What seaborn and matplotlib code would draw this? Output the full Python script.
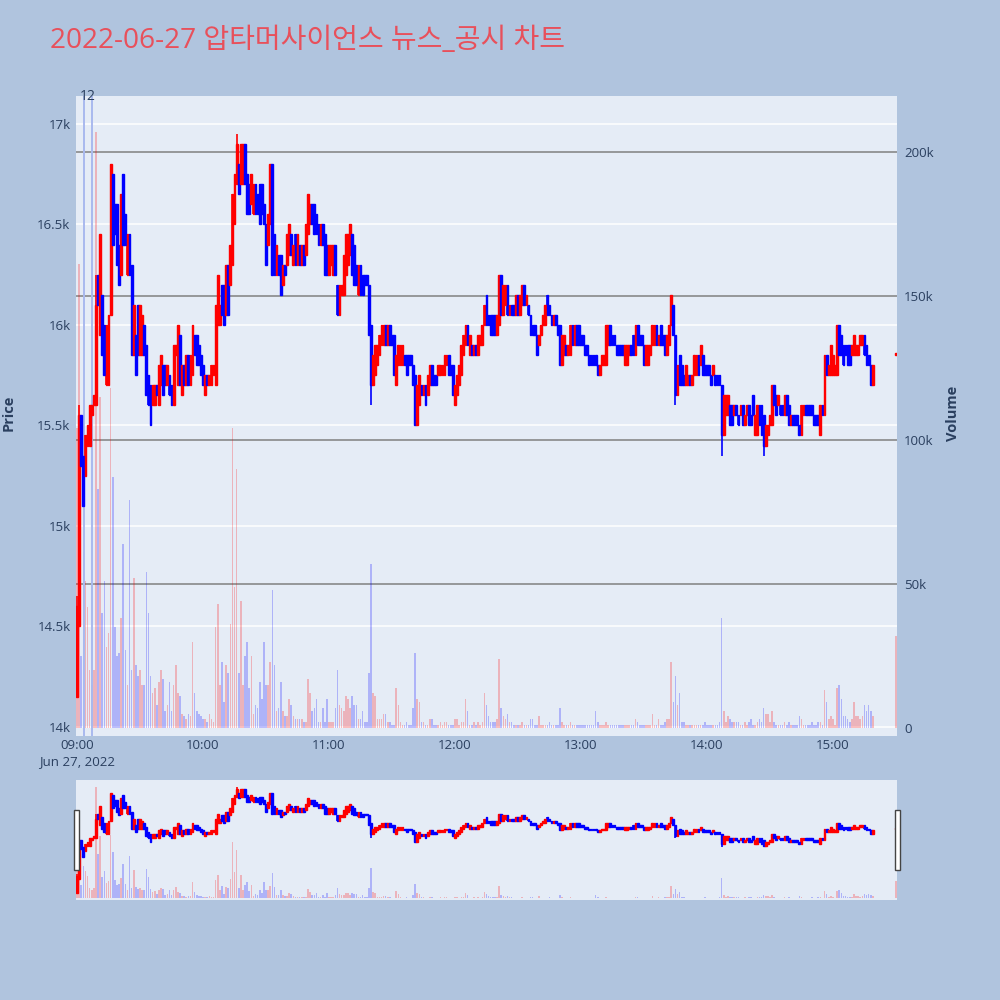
import numpy as np
import pandas as pd
import matplotlib
matplotlib.use("Agg")
import matplotlib.pyplot as plt
import matplotlib.transforms as mtransforms
from matplotlib.patches import Rectangle
import seaborn as sns

sns.set_theme(style="white")
plt.rcParams["font.family"] = ["Open Sans", "Noto Sans CJK KR", "DejaVu Sans"]

# ---------------- data (minute candles, minutes after 09:00) ----------------
seg_starts = [0, 67, 130, 198, 264, 326, 390]

open_a = [14150, 14500, 15550, 15350, 15250, 15400, 15400, 15550, 15600, 15600,
          16250, 15950, 16150, 16000, 15700, 15700, 16050, 16750, 16600, 16600,
          16400, 16250, 16750, 16550, 16250, 16450, 16300, 15850, 15950, 16100,
          15850, 15850, 16000, 15900, 15750, 15700, 15600, 15600, 15700, 15600,
          15700, 15800, 15800, 15700, 15750, 15700, 15600, 15850, 15700, 15950,
          15650, 15800, 15700, 15850, 15700, 15750, 15950, 15950, 15900, 15850,
          15800, 15650, 15750, 15700, 15700, 15750, 15700]
close_a = [14600, 15550, 15300, 15100, 15450, 15500, 15600, 15600, 15650, 16100,
           16100, 16450, 15850, 15750, 16000, 16050, 16800, 16400, 16450, 16300,
           16200, 16650, 16400, 16400, 16450, 16250, 15850, 16100, 15750, 15850,
           16100, 16050, 15850, 15650, 15600, 15500, 15700, 15700, 15650, 15800,
           15850, 15650, 15700, 15800, 15650, 15600, 15900, 15900, 16000, 15700,
           15800, 15700, 15850, 15700, 15850, 16000, 15850, 15800, 15800, 15750,
           15700, 15750, 15700, 15750, 15800, 15800, 16100]
vol_a = [104, 161, 25, 61, 51, 42, 20, 15, 20, 207,
         83, 115, 40, 51, 28, 33, 118, 87, 35, 25,
         26, 38, 64, 27, 15, 79, 20, 52, 22, 18,
         20, 15, 15, 54, 40, 18, 12, 14, 8, 16,
         20, 17, 6, 8, 16, 6, 15, 22, 12, 11,
         5, 4, 3, 5, 4, 30, 12, 6, 5, 4,
         3, 3, 2, 5, 3, 2, 35]

open_b = [16000, 16000, 16200, 16200, 16050, 16300, 16200, 16300, 16500, 16700,
          16800, 16700, 16700, 16900, 16750, 16700, 16600, 16550, 16700, 16650,
          16700, 16700, 16600, 16500, 16400, 16500, 16800, 16450, 16250, 16350,
          16350, 16200, 16300, 16300, 16350, 16450, 16300, 16450, 16300, 16400,
          16300, 16400, 16350, 16450, 16500, 16600, 16600, 16550, 16500, 16400,
          16500, 16450, 16400, 16250, 16300, 16250, 16400, 16200, 16050, 16150,
          16150, 16250, 16300]
close_b = [16250, 16100, 16050, 16000, 16300, 16050, 16400, 16650, 16750, 16900,
           16650, 16900, 16900, 16700, 16550, 16550, 16750, 16700, 16550, 16550,
           16500, 16550, 16500, 16300, 16550, 16800, 16250, 16250, 16400, 16250,
           16150, 16300, 16250, 16450, 16500, 16350, 16400, 16300, 16450, 16300,
           16400, 16300, 16500, 16650, 16600, 16500, 16450, 16450, 16400, 16500,
           16400, 16250, 16250, 16400, 16400, 16400, 16250, 16050, 16200, 16200,
           16350, 16450, 16450]
vol_b = [43, 15, 23, 9, 22, 19, 36, 104, 49, 90,
         19, 44, 15, 25, 30, 14, 25, 5, 8, 7,
         16, 10, 30, 15, 15, 23, 48, 22, 6, 7,
         16, 6, 4, 4, 10, 8, 4, 3, 3, 3,
         3, 2, 2, 17, 12, 6, 7, 10, 2, 2,
         7, 2, 10, 2, 2, 2, 7, 20, 8, 7,
         6, 11, 10]

open_c = [16350, 16450, 16400, 16300, 16150, 16300, 16250, 16250, 16250, 16200,
          16000, 15700, 15750, 15800, 15850, 15900, 15900, 16000, 15900, 16000,
          15950, 15950, 15700, 15800, 15800, 15800, 15850, 15850, 15850, 15850,
          15800, 15750, 15500, 15600, 15700, 15650, 15700, 15650, 15700, 15800,
          15750, 15750, 15750, 15750, 15750, 15750, 15800, 15850, 15800, 15800,
          15600, 15650, 15700, 15750, 15850, 15900, 16000, 15850, 15900, 15850,
          15900, 15850, 15900, 15900, 16000, 16150, 16050, 16050]
close_c = [16500, 16250, 16200, 16200, 16300, 16150, 16150, 16200, 16200, 15950,
           15700, 15850, 15900, 15900, 15950, 16000, 16000, 15900, 16000, 15900,
           15900, 15750, 15850, 15900, 15900, 15900, 15800, 15750, 15800, 15800,
           15700, 15500, 15700, 15750, 15650, 15700, 15600, 15750, 15800, 15700,
           15700, 15700, 15800, 15800, 15800, 15850, 15850, 15750, 15750, 15650,
           15700, 15750, 15800, 15900, 15950, 16000, 15900, 15950, 15850, 15900,
           15850, 15950, 15950, 16000, 16100, 16000, 16000, 15950]
vol_c = [7, 11, 8, 8, 3, 3, 6, 2, 2, 19,
         57, 12, 11, 3, 3, 3, 5, 5, 2, 2,
         1, 1, 14, 8, 2, 1, 1, 2, 1, 1,
         7, 26, 10, 9, 2, 2, 1, 1, 3, 3,
         1, 1, 1, 2, 1, 2, 2, 1, 1, 1,
         3, 3, 1, 2, 2, 10, 6, 1, 1, 2,
         1, 2, 1, 2, 12, 8, 4, 2]

open_d = [16050, 16050, 15950, 16000, 16250, 16050, 16100, 16200, 16050, 16100,
          16100, 16050, 16150, 16050, 16100, 16200, 16100, 16100, 16050, 16000,
          16000, 15950, 15900, 15950, 16000, 16000, 16150, 16100, 16050, 16000,
          16050, 16000, 16000, 15800, 15850, 15900, 15850, 15850, 16000, 15900,
          16000, 16000, 15950, 15950, 15900, 15900, 15850, 15850, 15850, 15850,
          15800, 15750, 15800, 15800, 15800, 15900, 16000, 15950, 15950, 15900,
          15900, 15900, 15900, 15800, 15800, 15850]
close_d = [15950, 15950, 16050, 16250, 16050, 16200, 16200, 16050, 16100, 16050,
           16050, 16150, 16050, 16150, 16200, 16100, 16150, 16050, 15950, 15950,
           15950, 15850, 15950, 16000, 16050, 16100, 16050, 16050, 16000, 16050,
           16000, 15950, 15800, 15950, 15950, 15850, 15900, 16000, 15900, 16000,
           15900, 15900, 15900, 15900, 15850, 15850, 15800, 15800, 15800, 15800,
           15750, 15800, 15850, 15850, 16000, 16000, 15900, 15900, 15900, 15850,
           15850, 15850, 15850, 15900, 15900, 15900]
vol_d = [2, 2, 3, 24, 7, 4, 3, 5, 2, 2,
         1, 1, 1, 1, 2, 1, 1, 1, 3, 3,
         1, 1, 4, 1, 1, 1, 1, 2, 1, 1,
         1, 1, 7, 2, 1, 1, 1, 2, 1, 1,
         1, 1, 1, 1, 1, 1, 1, 1, 1, 6,
         2, 1, 1, 1, 2, 1, 1, 1, 1, 1,
         1, 1, 1, 1, 1, 1]

open_e = [15900, 15950, 15850, 16000, 15950, 15950, 15900, 15800, 15800, 15850,
          15900, 15900, 16000, 15900, 16000, 15950, 15950, 15850, 15900, 16000,
          16100, 15950, 15650, 15850, 15800, 15750, 15700, 15700, 15750, 15700,
          15750, 15750, 15850, 15800, 15850, 15800, 15800, 15800, 15750, 15750,
          15750, 15750, 15750, 15700, 15450, 15550, 15550, 15600, 15600, 15550,
          15600, 15550, 15550, 15600, 15500, 15550, 15600, 15550, 15650, 15450,
          15450, 15600]
close_e = [15850, 15850, 16000, 15900, 15900, 15900, 15800, 15900, 15900, 15900,
           16000, 16000, 15900, 15950, 15900, 15900, 15850, 15950, 16000, 16150,
           15950, 15650, 15800, 15700, 15700, 15700, 15800, 15750, 15700, 15750,
           15850, 15850, 15750, 15900, 15750, 15750, 15750, 15750, 15700, 15800,
           15700, 15700, 15700, 15450, 15650, 15650, 15650, 15500, 15500, 15600,
           15550, 15500, 15600, 15500, 15550, 15600, 15500, 15500, 15550, 15550,
           15600, 15500]
vol_e = [1, 1, 3, 2, 1, 1, 1, 1, 1, 1,
         5, 1, 1, 3, 1, 1, 2, 3, 3, 23,
         9, 18, 8, 12, 2, 2, 1, 1, 1, 1,
         1, 1, 1, 1, 1, 2, 1, 1, 1, 1,
         1, 1, 2, 38, 6, 2, 4, 3, 2, 2,
         2, 2, 1, 1, 2, 1, 2, 3, 1, 1,
         2, 3]

open_f = [15600, 15550, 15400, 15450, 15500, 15500, 15700, 15650, 15600, 15600,
          15600, 15550, 15650, 15600, 15500, 15550, 15550, 15550, 15500, 15450,
          15550, 15600, 15600, 15600, 15600, 15550, 15550, 15550, 15450, 15600,
          15550, 15850, 15750, 15750, 15750, 15750, 15750, 16000, 15950, 15900,
          15900, 15900, 15900, 15850, 15850, 15850, 15850, 15900, 15900, 15950,
          15900, 15850, 15800, 15700]
close_f = [15450, 15400, 15500, 15500, 15550, 15700, 15600, 15550, 15650, 15550,
           15550, 15650, 15550, 15500, 15550, 15500, 15500, 15500, 15450, 15600,
           15600, 15550, 15550, 15550, 15550, 15500, 15500, 15500, 15600, 15550,
           15850, 15750, 15800, 15900, 15850, 15800, 16000, 15850, 15850, 15800,
           15850, 15800, 15800, 15900, 15950, 15900, 15900, 15950, 15950, 15850,
           15800, 15800, 15700, 15800]
vol_f = [2, 7, 5, 5, 2, 6, 2, 1, 1, 1,
         1, 2, 1, 2, 1, 1, 1, 1, 4, 3,
         1, 1, 1, 1, 2, 1, 1, 2, 2, 1,
         13, 9, 3, 4, 3, 1, 14, 15, 10, 4,
         4, 3, 2, 3, 9, 4, 4, 3, 4, 8,
         6, 8, 6, 4]

open_g = [15850]
close_g = [15860]
vol_g = [32]

# visible wick extremes
wick_minute = [0, 1, 9, 76, 140, 285, 307, 327]
wick_high = [14650, 15600, 16250, 16950, 16000, 15950, 15700, 15550]
wick_low = [14150, 14500, 15600, 16700, 15600, 15600, 15350, 15350]

news_minutes = [3.3, 7.1]
news_label = "12"

price_ticks = [14000, 14500, 15000, 15500, 16000, 16500, 17000]
price_labels = ["14k", "14.5k", "15k", "15.5k", "16k", "16.5k", "17k"]
vol_ticks = [0, 50, 100, 150, 200]
vol_labels = ["0", "50k", "100k", "150k", "200k"]
time_ticks = [0, 60, 120, 180, 240, 300, 360]
time_labels = ["09:00\nJun 27, 2022", "10:00", "11:00", "12:00", "13:00", "14:00", "15:00"]

title = "2022-06-27 압타머사이언스 뉴스_공시 차트"

# ---------------- assemble ----------------
opens_l = [open_a, open_b, open_c, open_d, open_e, open_f, open_g]
closes_l = [close_a, close_b, close_c, close_d, close_e, close_f, close_g]
vols_l = [vol_a, vol_b, vol_c, vol_d, vol_e, vol_f, vol_g]
minute = np.concatenate([s + np.arange(len(o)) for s, o in zip(seg_starts, opens_l)])
opens = np.concatenate(opens_l).astype(float)
closes = np.concatenate(closes_l).astype(float)
vols = np.concatenate(vols_l).astype(float)
highs = np.maximum(opens, closes)
lows = np.minimum(opens, closes)
for m, h, l in zip(wick_minute, wick_high, wick_low):
    i = np.where(minute == m)[0][0]
    highs[i] = max(highs[i], h)
    lows[i] = min(lows[i], l)

df = pd.DataFrame({"minute": minute, "open": opens, "close": closes,
                   "high": highs, "low": lows, "volume": vols})
df["direction"] = np.where(df["close"] > df["open"], "up", "down")

RED = "#FF0000"
BLUE = "#0000FF"
PLOT_BG = "#E5ECF6"
PAPER_BG = "#B0C4DE"
TXT = "#2a3f5f"
PRICE_LIM = (13955, 17139)
VOL_LIM = (-2.8, 219.4)
XLIM = (-0.5, 390.5)


def draw_panel(ax_vol, ax_price):
    sns.histplot(data=df, x="minute", weights="volume", hue="direction",
                 hue_order=["up", "down"], palette={"up": RED, "down": BLUE},
                 binwidth=1, binrange=XLIM, shrink=0.75, multiple="layer",
                 alpha=0.24, linewidth=0, legend=False, ax=ax_vol)
    cols = np.where(df["direction"] == "up", RED, BLUE)
    ax_price.vlines(df["minute"], df["low"], df["high"], colors=cols,
                    linewidth=1.2, zorder=3)
    ax_price.bar(df["minute"], df["close"] - df["open"], bottom=df["open"],
                 width=0.85, color=cols, edgecolor=cols, linewidth=1.0, zorder=4)
    for a in (ax_vol, ax_price):
        a.set_xlim(*XLIM)
        for s in a.spines.values():
            s.set_visible(False)
        a.set_xlabel("")
        a.set_ylabel("")
    ax_vol.set_ylim(*VOL_LIM)
    ax_price.set_ylim(*PRICE_LIM)


fig = plt.figure(figsize=(10, 10), dpi=100, facecolor=PAPER_BG)

# ---------------- main panel ----------------
axv = fig.add_axes([0.076, 0.264, 0.821, 0.640], facecolor=PLOT_BG)
axp = axv.twinx()
draw_panel(axv, axp)

blend = mtransforms.blended_transform_factory(axv.transAxes, axp.transData)
for p in price_ticks:
    axv.plot([0, 1], [p, p], transform=blend, color="white", lw=1.1, zorder=0.3)
for v in vol_ticks[1:]:
    axv.axhline(v, color="#808080", lw=1.1, zorder=0.5)

axp.yaxis.tick_left()
axp.yaxis.set_label_position("left")
axv.yaxis.tick_right()
axv.yaxis.set_label_position("right")
axp.set_yticks(price_ticks)
axp.set_yticklabels(price_labels)
axv.set_yticks(vol_ticks)
axv.set_yticklabels(vol_labels)
axv.set_xticks(time_ticks)
axv.set_xticklabels(time_labels, linespacing=1.35)
axp.tick_params(axis="y", length=0, pad=4, labelsize=9.5, labelcolor=TXT)
axv.tick_params(axis="y", length=0, pad=5, labelsize=9.5, labelcolor=TXT)
axv.tick_params(axis="x", length=0, pad=2, labelsize=9.5, labelcolor=TXT)

for m in news_minutes:
    axp.axvline(m, color="#A9B9EE", lw=1.4, zorder=2)
axp.text(np.mean(news_minutes), 1.0, news_label, ha="center", va="center",
         fontsize=10, color=TXT, clip_on=False,
         transform=mtransforms.blended_transform_factory(axp.transData, axp.transAxes))

# ---------------- range slider ----------------
axsv = fig.add_axes([0.076, 0.100, 0.821, 0.120], facecolor=PLOT_BG)
axsp = axsv.twinx()
draw_panel(axsv, axsp)
for a in (axsv, axsp):
    a.set_xticks([])
    a.set_yticks([])
for x0 in (0.0735, 0.8945):
    fig.add_artist(Rectangle((x0, 0.130), 0.005, 0.060, transform=fig.transFigure,
                             facecolor="white", edgecolor="#444444", lw=1.0))

# ---------------- texts ----------------
fig.text(0.050, 0.959, title, color="#E8505B", fontsize=20.2, ha="left", va="center")
fig.text(0.009, 0.587, "Price", rotation=90, ha="center", va="center",
         color=TXT, fontsize=10.5, fontweight="bold")
fig.text(0.953, 0.587, "Volume", rotation=90, ha="center", va="center",
         color=TXT, fontsize=10.5, fontweight="bold")

fig.savefig("out.png", dpi=100, facecolor=PAPER_BG)
